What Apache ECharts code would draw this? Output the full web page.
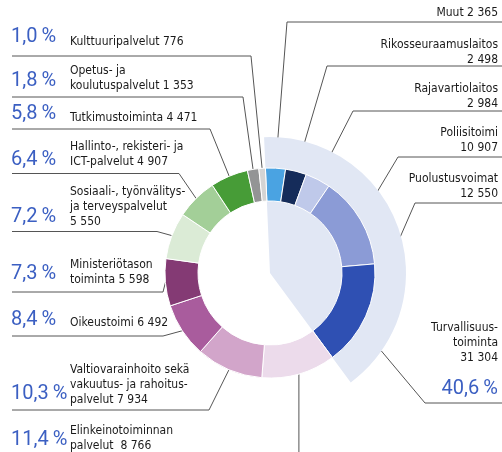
<!DOCTYPE html>
<html>
<head>
<meta charset="utf-8">
<script src="https://cdn.jsdelivr.net/npm/echarts@6/dist/echarts.min.js"></script>
<style>
html,body{margin:0;padding:0;background:#fff}
#main{width:502px;height:452px}
</style>
</head>
<body>
<div id="main"></div>
<script>
// segments, clockwise from the top
var names = ['Muut', 'Rikosseuraamuslaitos', 'Rajavartiolaitos', 'Poliisitoimi', 'Puolustusvoimat',
	'Elinkeinotoiminnan\npalvelut ', 'Valtiovarainhoito sekä\nvakuutus- ja rahoitus-\npalvelut', 'Oikeustoimi',
	'Ministeriötason\ntoiminta', 'Sosiaali-, työnvälitys-\nja terveyspalvelut', 'Hallinto-, rekisteri- ja\nICT-palvelut',
	'Tutkimustoiminta', 'Opetus- ja\nkoulutuspalvelut', 'Kulttuuripalvelut'];
var values = [2365, 2498, 2984, 10907, 12550, 8766, 7934, 6492, 5598, 5550, 4907, 4471, 1353, 776];
// value written on its own line for these
var valueOwnLine = [1, 2, 3, 4, 9];
// first five segments make the group
var groupName = 'Turvallisuus-\ntoiminta';
var groupCount = 5;

var colors = ['#4aa3e2', '#152c5a', '#bfc9ea', '#8b9bd6', '#2f50b3', '#ecdbeb', '#d2a5ca', '#a95c9d',
	'#843a74', '#dbebd6', '#a3cf98', '#479c37', '#939495', '#d4d4d4'];

var FONT = "'DejaVu Sans Condensed','DejaVu Sans',sans-serif";
var PFONT = "Roboto,'Liberation Sans',sans-serif";
var BLUE = '#3b5fc2';
var cx = 270, cy = 273;

// label layout: side, centre y of text, y of underline, x of elbow, centre y of percent
var pos = [
	{side: 'R', y: 13, lineY: 22, elbowX: 287},
	{side: 'R', y: 52, lineY: 66, elbowX: 327},
	{side: 'R', y: 96.5, lineY: 111, elbowX: 353},
	{side: 'R', y: 140, lineY: 157, elbowX: 398},
	{side: 'R', y: 186, lineY: 203, elbowX: 415},
	{side: 'L', y: 438, vertical: true, pctY: 440},
	{side: 'L', y: 385, lineY: 410, elbowX: 209, pctY: 393.5},
	{side: 'L', y: 323, lineY: 336, elbowX: 163, pctY: 320},
	{side: 'L', y: 272, lineY: 292, elbowX: 163, pctY: 273.5},
	{side: 'L', y: 207, lineY: 231.5, elbowX: 157, pctY: 216.5},
	{side: 'L', y: 154.5, lineY: 173.5, elbowX: 179, pctY: 159.5},
	{side: 'L', y: 118, lineY: 129, elbowX: 210, pctY: 114},
	{side: 'L', y: 78, lineY: 97, elbowX: 243, pctY: 81},
	{side: 'L', y: 42, lineY: 56, elbowX: 251, pctY: 37}
];

function fmt(v) {
	return String(v).replace(/\B(?=(\d{3})+(?!\d))/g, ' ');
}
var total = 0, groupValue = 0;
for (var i = 0; i < values.length; i++) {
	total += values[i];
	if (i < groupCount) groupValue += values[i];
}
// plain rounding of each share
function pct(v) {
	return (v / total * 100).toFixed(1).replace('.', ',') + '\u2009%';
}

var ringData = [], pctData = [];
for (var i = 0; i < values.length; i++) {
	ringData.push({name: names[i], value: values[i], itemStyle: {color: colors[i]}});
	pctData.push({name: names[i], value: values[i], label: {show: pos[i].side === 'L'}});
}

var myChart = echarts.init(document.getElementById('main'));
var lineStyle = {color: '#555', width: 1};

option = {
	animation: false,
	series: [{
		// light sector behind the group
		type: 'pie',
		center: [cx, cy],
		radius: [0, 136],
		startAngle: 92.5,
		silent: true,
		data: [{
			name: groupName, value: groupValue, itemStyle: {color: '#e1e7f4'},
			label: {show: true},
			labelLine: {show: true, lineStyle: lineStyle}
		}, {
			name: 'rest', value: total - groupValue, itemStyle: {color: 'transparent'},
			label: {show: false}, labelLine: {show: false}
		}],
		label: {
			width: 150,
			overflow: 'none',
			formatter: function (p) {
				var s = p.name.split('\n').map(function (t) { return '{n|' + t + '}'; });
				s.push('{n|' + fmt(p.value) + '}');
				s.push('{p|' + pct(p.value) + '}');
				return s.join('\n');
			},
			rich: {
				n: {fontFamily: FONT, fontSize: 12, lineHeight: 15, color: '#1a1a1a', align: 'right'},
				p: {fontFamily: PFONT, fontSize: 20, lineHeight: 46, color: BLUE, align: 'right'}
			}
		},
		labelLayout: function (p) {
			var a = 125 * Math.PI / 180;
			return {
				x: 498, y: 320.5, align: 'right', verticalAlign: 'top',
				labelLinePoints: [[cx + 136 * Math.sin(a), cy - 136 * Math.cos(a)], [425, 403], [502, 403]]
			};
		}
	}, {
		type: 'pie',
		center: [cx, cy],
		radius: [72, 105],
		startAngle: 92.5,
		silent: true,
		avoidLabelOverlap: false,
		itemStyle: {borderColor: '#fff', borderWidth: 1},
		data: ringData,
		label: {
			fontFamily: FONT, fontSize: 12, lineHeight: 15, color: '#1a1a1a',
			overflow: 'none',
			formatter: function (p) {
				var sep = valueOwnLine.indexOf(p.dataIndex) >= 0 ? '\n' : ' ';
				return p.name + sep + fmt(p.value);
			}
		},
		labelLine: {show: true, lineStyle: lineStyle},
		labelLayout: function (p) {
			var L = pos[p.dataIndex];
			var a = p.labelLinePoints[0];
			var pts;
			if (L.vertical) {
				pts = [a, [a[0], 470]];
			} else {
				pts = [a, [L.elbowX, L.lineY], [L.side === 'L' ? 12 : 502, L.lineY]];
			}
			return {
				x: L.side === 'L' ? 70 : 498, y: L.y,
				align: L.side === 'L' ? 'left' : 'right', verticalAlign: 'middle',
				labelLinePoints: pts
			};
		}
	}, {
		// percentages on the left
		type: 'pie',
		center: [cx, cy],
		radius: [72, 105],
		startAngle: 92.5,
		silent: true,
		avoidLabelOverlap: false,
		itemStyle: {color: 'transparent'},
		data: pctData,
		label: {
			fontFamily: PFONT, fontSize: 20, color: BLUE,
			overflow: 'none',
			formatter: function (p) { return pct(p.value); }
		},
		labelLine: {show: false},
		labelLayout: function (p) {
			return {x: 11, y: pos[p.dataIndex].pctY, align: 'left', verticalAlign: 'middle'};
		}
	}]
};
myChart.setOption(option);
</script>
</body>
</html>
